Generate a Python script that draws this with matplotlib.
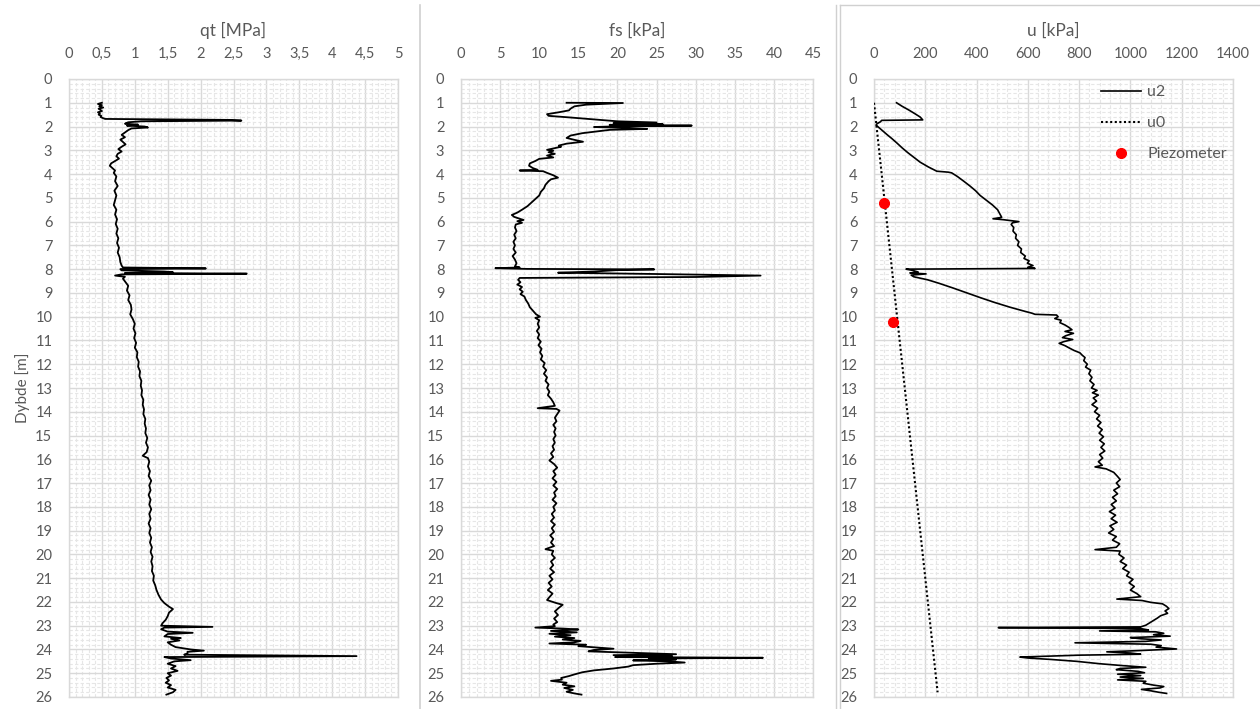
import matplotlib
matplotlib.use("Agg")
import matplotlib.pyplot as plt
from matplotlib.ticker import MultipleLocator, FuncFormatter
from matplotlib.lines import Line2D

# ---------------- data ----------------
qt_depth = [1.00,1.05,1.10,1.15,1.20,1.25,1.30,1.35,1.40,1.45,1.50,1.55,1.60,1.65,1.68,1.72,1.75,1.78,1.82,1.88,1.92,1.96,2.00,2.04,2.08,2.15,2.25,2.35,2.45,2.55,2.65,2.75,2.85,2.95,3.05,3.15,3.25,3.35,3.45,3.55,3.65,3.75,3.85,3.95,4.10,4.30,4.50,4.70,4.90,5.10,5.30,5.50,5.70,5.90,6.10,6.30,6.50,6.70,6.90,7.10,7.30,7.50,7.70,7.85,7.93,7.97,8.00,8.05,8.10,8.13,8.16,8.19,8.22,8.27,8.32,8.40,8.55,8.70,8.90,9.10,9.30,9.50,9.70,9.90,10.10,10.30,10.50,10.70,10.90,11.10,11.30,11.50,11.70,11.90,12.10,12.30,12.50,12.70,12.90,13.10,13.30,13.50,13.70,13.90,14.10,14.30,14.50,14.70,14.90,15.10,15.30,15.50,15.70,15.85,15.95,16.10,16.30,16.50,16.70,16.90,17.10,17.30,17.50,17.70,17.90,18.10,18.30,18.50,18.70,18.90,19.10,19.30,19.50,19.70,19.90,20.10,20.30,20.50,20.70,20.90,21.10,21.30,21.50,21.70,21.90,22.05,22.20,22.30,22.45,22.60,22.75,22.90,23.00,23.05,23.08,23.15,23.25,23.30,23.35,23.45,23.52,23.55,23.62,23.70,23.80,23.90,24.00,24.05,24.10,24.18,24.22,24.28,24.32,24.38,24.45,24.50,24.60,24.70,24.80,24.90,25.00,25.10,25.20,25.30,25.40,25.50,25.60,25.70,25.80,25.90]
qt_value = [0.50,0.44,0.50,0.46,0.52,0.45,0.48,0.50,0.44,0.47,0.45,0.49,0.48,0.52,0.55,2.40,2.62,1.10,0.90,0.85,1.05,0.88,1.15,1.20,0.95,0.90,0.85,0.80,0.85,0.78,0.82,0.86,0.80,0.75,0.80,0.74,0.72,0.76,0.70,0.64,0.62,0.66,0.70,0.68,0.72,0.70,0.74,0.69,0.72,0.70,0.68,0.72,0.70,0.73,0.71,0.74,0.72,0.75,0.73,0.76,0.74,0.77,0.78,0.80,0.82,2.08,0.78,0.80,1.45,1.58,0.85,2.70,0.80,0.70,0.85,0.82,0.86,0.90,0.88,0.92,0.90,0.94,0.95,0.93,0.97,1.00,0.98,1.01,0.99,1.02,1.00,1.04,1.03,1.06,1.05,1.08,1.07,1.10,1.09,1.11,1.10,1.13,1.12,1.14,1.13,1.16,1.15,1.17,1.16,1.19,1.17,1.20,1.18,1.12,1.20,1.22,1.20,1.23,1.21,1.25,1.22,1.24,1.21,1.24,1.22,1.25,1.22,1.24,1.21,1.24,1.22,1.25,1.23,1.26,1.24,1.27,1.25,1.27,1.26,1.29,1.28,1.31,1.33,1.36,1.40,1.45,1.52,1.58,1.52,1.50,1.47,1.42,1.40,2.18,1.45,1.40,1.50,1.88,1.50,1.45,1.70,1.55,1.68,1.50,1.55,1.62,1.85,2.05,1.80,1.80,1.75,4.37,1.45,1.55,1.85,1.60,1.50,1.62,1.55,1.65,1.50,1.55,1.48,1.52,1.47,1.55,1.50,1.62,1.58,1.48]

fs_depth = [1.00,1.01,1.08,1.15,1.25,1.32,1.40,1.48,1.55,1.62,1.70,1.78,1.83,1.86,1.90,1.93,1.96,1.99,2.02,2.06,2.10,2.14,2.20,2.28,2.38,2.48,2.56,2.64,2.72,2.80,2.85,2.92,2.98,3.02,3.08,3.15,3.22,3.30,3.36,3.45,3.55,3.65,3.75,3.82,3.85,3.88,3.95,4.05,4.15,4.22,4.30,4.45,4.60,4.75,4.90,5.05,5.20,5.35,5.50,5.62,5.72,5.80,5.88,5.93,5.98,6.05,6.12,6.25,6.40,6.55,6.70,6.85,7.00,7.15,7.30,7.45,7.60,7.75,7.88,7.93,7.96,7.99,8.01,8.04,8.10,8.15,8.20,8.27,8.33,8.37,8.45,8.55,8.65,8.75,8.85,8.95,9.05,9.15,9.30,9.45,9.60,9.75,9.90,10.00,10.05,10.15,10.30,10.45,10.60,10.75,10.90,11.05,11.20,11.35,11.50,11.65,11.80,11.95,12.10,12.25,12.40,12.55,12.70,12.85,13.00,13.15,13.30,13.45,13.60,13.75,13.85,13.88,13.95,14.10,14.25,14.40,14.55,14.70,14.85,15.00,15.15,15.30,15.45,15.60,15.75,15.90,16.05,16.20,16.35,16.50,16.65,16.80,16.95,17.10,17.25,17.40,17.55,17.70,17.85,18.00,18.15,18.30,18.45,18.60,18.75,18.90,19.05,19.20,19.35,19.50,19.65,19.78,19.85,20.00,20.15,20.30,20.45,20.60,20.75,20.90,21.05,21.20,21.35,21.50,21.65,21.80,21.92,22.05,22.12,22.25,22.40,22.55,22.70,22.85,22.95,23.02,23.08,23.12,23.16,23.22,23.28,23.34,23.40,23.46,23.52,23.58,23.64,23.70,23.75,23.80,23.86,23.92,23.97,24.02,24.08,24.14,24.20,24.24,24.28,24.32,24.35,24.38,24.42,24.46,24.50,24.55,24.60,24.66,24.72,24.80,24.88,24.96,25.05,25.12,25.20,25.27,25.32,25.40,25.48,25.55,25.62,25.70,25.78,25.85,25.90]
fs_value = [13.5,20.7,16.0,14.5,14.0,13.8,12.5,11.0,11.2,14.0,17.0,20.0,25.0,19.5,25.8,19.0,29.5,20.0,17.0,21.5,23.8,19.0,17.5,15.5,14.0,13.5,14.5,15.6,13.5,12.5,12.8,11.8,11.0,11.8,11.2,12.0,11.0,11.8,10.0,9.5,8.8,8.7,9.2,9.8,7.5,10.5,11.0,11.8,12.4,11.5,11.2,10.8,10.6,10.2,10.0,9.5,9.0,8.5,7.8,7.2,6.5,6.8,7.5,8.0,7.2,7.8,7.0,6.9,7.1,6.8,7.0,6.7,6.9,6.7,7.0,6.6,6.9,7.1,6.9,7.5,4.4,8.5,24.7,20.0,17.0,12.4,24.0,38.3,30.0,7.5,7.3,7.6,7.2,7.8,7.5,7.9,7.6,8.1,8.3,8.6,8.8,9.2,9.6,10.1,9.5,10.0,9.8,10.0,9.7,10.0,9.8,10.2,9.9,10.3,10.1,10.4,10.2,10.7,10.5,10.9,10.6,11.0,10.8,11.2,11.0,11.3,11.1,11.5,11.8,12.0,9.8,12.2,12.6,12.3,12.0,12.2,11.8,12.1,11.9,12.1,11.8,12.0,11.7,11.9,11.5,11.8,11.3,11.9,12.3,11.8,12.1,11.7,12.2,11.8,12.3,11.9,12.1,11.7,12.2,11.8,12.0,11.6,11.9,11.5,12.0,11.6,11.9,11.4,11.8,11.5,11.9,10.8,11.8,11.6,12.0,11.5,11.8,11.4,11.9,11.3,11.7,11.2,11.6,11.1,11.7,11.3,11.0,12.2,13.0,12.5,12.0,12.4,11.9,12.3,11.8,12.0,9.5,13.0,15.0,11.5,14.8,11.3,14.0,12.0,14.5,13.0,15.3,14.5,11.3,16.0,15.0,17.5,19.5,17.0,16.3,22.0,27.5,19.5,27.0,19.7,38.6,24.0,27.5,22.0,26.5,28.6,25.0,22.0,21.4,19.5,17.0,15.5,14.5,13.8,12.8,12.9,11.5,13.5,13.0,14.5,13.2,14.3,13.5,14.5,15.4]

u2_depth = [1.00,1.15,1.30,1.45,1.60,1.72,1.74,1.80,1.88,1.94,2.05,2.20,2.35,2.50,2.70,2.90,3.10,3.30,3.50,3.70,3.88,3.92,3.95,4.10,4.30,4.50,4.70,4.90,5.10,5.30,5.50,5.70,5.82,5.88,5.92,6.00,6.05,6.12,6.25,6.40,6.55,6.70,6.85,7.00,7.15,7.30,7.45,7.55,7.65,7.75,7.85,7.92,7.97,8.00,8.05,8.12,8.16,8.20,8.25,8.32,8.45,8.60,8.80,9.00,9.20,9.40,9.60,9.75,9.85,9.90,9.93,10.00,10.08,10.15,10.25,10.35,10.45,10.55,10.62,10.70,10.80,10.88,10.96,11.05,11.12,11.22,11.32,11.42,11.52,11.62,11.72,11.85,12.00,12.12,12.25,12.40,12.55,12.70,12.85,13.00,13.10,13.20,13.30,13.42,13.55,13.70,13.85,14.00,14.15,14.30,14.45,14.60,14.75,14.90,15.05,15.20,15.35,15.50,15.65,15.80,15.95,16.10,16.25,16.32,16.40,16.55,16.70,16.85,17.00,17.15,17.30,17.45,17.60,17.75,17.90,18.05,18.20,18.35,18.50,18.65,18.80,18.95,19.10,19.25,19.40,19.55,19.70,19.80,19.86,20.00,20.15,20.30,20.45,20.60,20.75,20.90,21.05,21.20,21.35,21.50,21.65,21.78,21.88,21.94,22.02,22.08,22.18,22.28,22.38,22.48,22.58,22.68,22.78,22.88,22.98,23.05,23.08,23.12,23.18,23.22,23.26,23.32,23.38,23.44,23.50,23.55,23.60,23.66,23.72,23.78,23.84,23.90,23.98,24.04,24.10,24.15,24.20,24.24,24.28,24.32,24.36,24.42,24.50,24.60,24.68,24.75,24.80,24.85,24.92,24.98,25.04,25.10,25.16,25.22,25.28,25.34,25.42,25.50,25.56,25.62,25.68,25.74,25.80,25.85]
u2_value = [88,110,135,158,180,190,30,25,12,8,20,36,52,69,90,110,132,156,180,212,245,290,303,325,350,374,396,414,438,462,482,492,498,464,505,565,540,535,545,542,555,552,565,560,575,572,590,585,605,598,620,600,628,125,150,172,140,203,145,155,210,255,310,362,415,470,530,580,615,628,712,718,705,730,725,745,760,772,745,778,748,735,775,740,722,745,762,780,803,812,823,818,832,825,845,838,850,842,858,848,870,852,875,855,868,850,872,860,880,868,885,872,890,878,895,880,898,885,900,880,892,875,890,862,905,935,948,960,945,958,935,950,930,945,925,940,918,942,925,948,920,935,915,945,930,958,945,862,960,955,975,960,985,970,995,985,1010,995,1015,1000,1025,1040,947,1045,1080,1125,1140,1150,1135,1145,1118,1105,1090,1075,1060,1040,485,1040,1070,880,1100,1130,1090,1155,1000,1040,1120,1060,784,1080,1120,1100,1180,1050,908,1000,1040,800,680,569,600,690,790,880,970,1060,960,945,1030,1055,950,1040,960,1050,950,1060,1050,1090,1130,1115,1043,1080,1110,1141]

u0_depth = [1.0, 25.8]
u0_value = [0, 248]

piezo_depth = [5.23, 10.24]
piezo_value = [39, 75]

# ---------------- style ----------------
TXT = "#595959"
GRID_MAJ = "#d9d9d9"
GRID_MIN = "#e6e6e6"
plt.rcParams['font.family'] = ['Lato', 'DejaVu Sans']

fig = plt.figure(figsize=(12.6, 7.09), dpi=100)
W, H = 1260, 709


def fx(px):
    return px / W


def fy(py):
    return 1 - py / H


top_px, bot_px = 79, 697
panels = [
    dict(left=69, right=398, xmax=5, xmaj=0.5, title="qt [MPa]"),
    dict(left=461, right=813, xmax=45, xmaj=5, title="fs [kPa]"),
    dict(left=874, right=1233, xmax=1400, xmaj=200, title="u [kPa]"),
]

axes = []
for p in panels:
    ax = fig.add_axes([fx(p['left']), fy(bot_px), fx(p['right'] - p['left']),
                       (bot_px - top_px) / H])
    ax.set_xlim(0, p['xmax'])
    ax.set_ylim(26, 0)
    ax.xaxis.set_major_locator(MultipleLocator(p['xmaj']))
    ax.xaxis.set_minor_locator(MultipleLocator(p['xmaj'] / 5))
    ax.yaxis.set_major_locator(MultipleLocator(1))
    ax.yaxis.set_minor_locator(MultipleLocator(0.2))
    ax.xaxis.tick_top()
    ax.xaxis.set_label_position('top')
    ax.tick_params(which='both', length=0)
    ax.tick_params(axis='x', pad=13, labelsize=10.5, labelcolor=TXT)
    ax.tick_params(axis='y', pad=12, labelsize=10.5, labelcolor=TXT)
    ax.xaxis.set_major_formatter(FuncFormatter(
        lambda v, pos: ("%g" % v).replace('.', ',')))
    ax.grid(which='minor', color=GRID_MIN, lw=0.8, ls=(0, (3, 2)))
    ax.grid(which='major', color=GRID_MAJ, lw=1.0, ls='-')
    ax.set_axisbelow(True)
    for s in ax.spines.values():
        s.set_color(GRID_MAJ)
        s.set_linewidth(1.0)
    ax.set_xlabel(p['title'], fontsize=12.5, color=TXT, labelpad=8)
    axes.append(ax)

ax1, ax2, ax3 = axes
ax1.set_ylabel("Dybde [m]", fontsize=11, color=TXT, labelpad=4)

ax1.plot(qt_value, qt_depth, color='black', lw=1.3, zorder=3)
ax2.plot(fs_value, fs_depth, color='black', lw=1.3, zorder=3)
ax3.plot(u2_value, u2_depth, color='black', lw=1.2, zorder=3, label='u2')
ax3.plot(u0_value, u0_depth, color='black', lw=1.5, ls=(0, (1, 1.2)), zorder=3,
         label='u0')
ax3.plot(piezo_value, piezo_depth, ls='none', marker='o', ms=7, color='#ff0000',
         zorder=4, label='Piezometer')

leg = ax3.legend(loc='upper left', bbox_to_anchor=(0.632, 0.99), frameon=False,
                 fontsize=11.5, labelspacing=1.05, handlelength=2.5,
                 handletextpad=0.4, borderpad=0, borderaxespad=0)
for t in leg.get_texts():
    t.set_color(TXT)

# separator / frame lines between the pasted charts
sep = "#d0d0d0"
fig.add_artist(Line2D([fx(420), fx(420)], [fy(5), 0], color=sep, lw=1.2))
fig.add_artist(Line2D([fx(836), fx(836)], [fy(5), 0], color=sep, lw=1.0))
fig.add_artist(Line2D([fx(840), fx(840)], [fy(5), 0], color=sep, lw=1.0))
fig.add_artist(Line2D([fx(840), 1], [fy(5), fy(5)], color=sep, lw=1.0))

fig.savefig("out.png", dpi=100, facecolor='white')
